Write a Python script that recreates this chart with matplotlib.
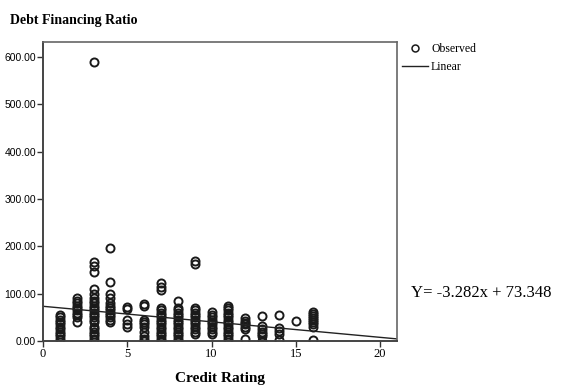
import numpy as np
import matplotlib
matplotlib.use("Agg")
import matplotlib.pyplot as plt

# credit rating (x) -> observed debt financing ratios
ratings = [1, 2, 3, 4, 5, 6, 7, 8, 9, 10, 11, 12, 13, 14, 15, 16]
ratios = [
    [55, 50, 45, 40, 35, 30, 25, 20, 15, 10, 5],
    [90, 85, 80, 75, 70, 65, 60, 55, 50, 40],
    [590, 168, 158, 146, 110, 100, 90, 85, 80, 75, 70, 65, 60, 55, 50, 45, 40, 30, 25, 20, 15, 10, 5],
    [197, 125, 100, 90, 80, 75, 70, 65, 60, 55, 50, 45, 40],
    [72, 68, 45, 35, 30],
    [78, 75, 45, 40, 35, 30, 20, 10, 5, 0],
    [122, 115, 108, 70, 65, 60, 55, 50, 45, 40, 35, 30, 25, 20, 15, 10, 5, 0],
    [85, 70, 65, 60, 55, 50, 45, 40, 35, 30, 25, 20, 15, 10, 5, 0],
    [170, 162, 70, 65, 60, 55, 50, 45, 40, 35, 30, 25, 20, 15],
    [62, 55, 50, 45, 40, 35, 30, 25, 20, 15],
    [75, 70, 65, 60, 55, 50, 45, 40, 35, 30, 25, 20, 15, 10, 5],
    [48, 42, 38, 35, 30, 25, 5],
    [52, 32, 25, 20, 15, 10, 0],
    [55, 28, 22, 15, 3],
    [42],
    [62, 57, 52, 48, 45, 40, 35, 30, 3],
]

slope = -3.282
intercept = 73.348

xs = np.concatenate([[r] * len(v) for r, v in zip(ratings, ratios)])
ys = np.concatenate(ratios)

fig = plt.figure(figsize=(5.71, 3.86), dpi=100)
ax = fig.add_axes([0.0753, 0.1166, 0.62, 0.7746])

obs, = ax.plot(xs, ys, "o", mfc="none", mec="#1a1a1a", mew=1.4, ms=5.8,
               linestyle="none", label="Observed")
line_x = np.array([0, 21])
lin, = ax.plot(line_x, slope * line_x + intercept, color="#222222", lw=1.0,
               label="Linear")

ax.set_xlim(0, 21)
ax.set_ylim(0, 632)
ax.set_xticks([0, 5, 10, 15, 20])
ax.set_yticks([0, 100, 200, 300, 400, 500, 600])
ax.set_yticklabels([f"{v:.2f}" for v in ax.get_yticks()],
                   fontfamily="Liberation Sans", fontsize=7.5)
ax.set_xticklabels(["0", "5", "10", "15", "20"],
                   fontfamily="Liberation Serif", fontsize=9)
ax.tick_params(direction="out", length=4, width=1, color="#333333", pad=1)

for side in ["left", "bottom"]:
    ax.spines[side].set_linewidth(1.4)
    ax.spines[side].set_color("#444444")
for side in ["top", "right"]:
    ax.spines[side].set_linewidth(1.2)
    ax.spines[side].set_color("#666666")

ax.set_xlabel("Credit Rating", fontfamily="Liberation Serif", fontsize=11,
              fontweight="bold", labelpad=9)
fig.text(0.018, 0.948, "Debt Financing Ratio", fontfamily="Liberation Serif",
         fontsize=10, fontweight="bold", va="center")

obs_leg, = ax.plot([], [], "o", mfc="none", mec="#1a1a1a", mew=1.1, ms=5,
                   linestyle="none")
fig.legend(handles=[obs_leg, lin], labels=["Observed", "Linear"],
           loc="upper left", bbox_to_anchor=(0.695, 0.9),
           frameon=False, prop={"family": "Liberation Serif", "size": 8.5},
           handlelength=2.2, handletextpad=0.3, labelspacing=0.45,
           borderaxespad=0)

fig.text(0.72, 0.24, "Y= -3.282x + 73.348", fontfamily="Liberation Serif",
         fontsize=12, va="center")

fig.savefig("out.png", dpi=100)
